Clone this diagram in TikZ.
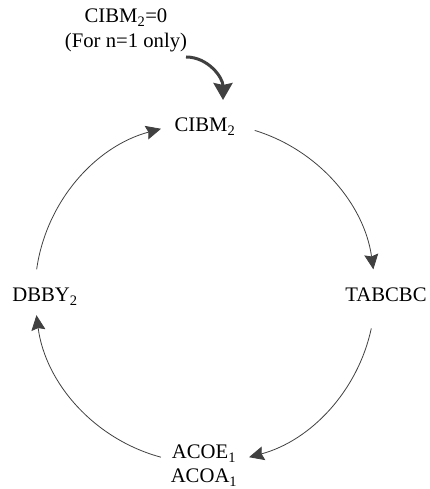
\documentclass[tikz,border=0pt]{standalone}
\usepackage{fontspec}
\setmainfont{Liberation Serif}
\usetikzlibrary{arrows.meta,calc}

\begin{document}
\begin{tikzpicture}[x=1pt,y=1pt, species/.style={anchor=base,inner sep=0pt,font=\fontsize{20.7}{25}\selectfont}, react/.style={color=black!75,line width=0.8pt,-{Stealth[length=15pt,width=14pt,inset=2pt]}}, feed/.style={color=black!75,line width=3pt,-{Stealth[length=17pt,width=19pt,inset=2pt]}}]
      \useasboundingbox (0,0) rectangle (430,489);

      \node[species] (init) at (126,466) {CIBM\textsubscript{2}=0};
      \node[species] (note) at (126,441) {(For n=1 only)};
      \node[species] (cibm) at (205,357) {CIBM\textsubscript{2}};
      \node[species] (tab)  at (386,187) {TABCBC};
      \node[species] (dbby) at (45,187)  {DBBY\textsubscript{2}};
      \node[species] (acoe) at (204,30)  {ACOE\textsubscript{1}};
      \node[species] (acoa) at (204,6)   {ACOA\textsubscript{1}};

      % ring of reactions
      \coordinate (ctr) at (205,196);
      \coordinate (r1) at ($(ctr)+(172:170)$);
      \coordinate (r2) at ($(ctr)+(73:170)$);
      \coordinate (r3) at ($(ctr)+(-12:170)$);
      \coordinate (r4) at ($(ctr)+(-105:170)$);

      \draw[react] (r1) arc[start angle=172, end angle=105, radius=170pt];
      \draw[react] (r2) arc[start angle=73, end angle=8, radius=170pt];
      \draw[react] (r3) arc[start angle=-12, end angle=-75, radius=170pt];
      \draw[react] (r4) arc[start angle=-105, end angle=-172.5, radius=170pt];

      % first pass only
      \coordinate (fs) at (186,432);
      \coordinate (ft) at (223,389);
      \draw[feed] (fs) to[out=0, in=90] (ft);
    \end{tikzpicture}
\end{document}
